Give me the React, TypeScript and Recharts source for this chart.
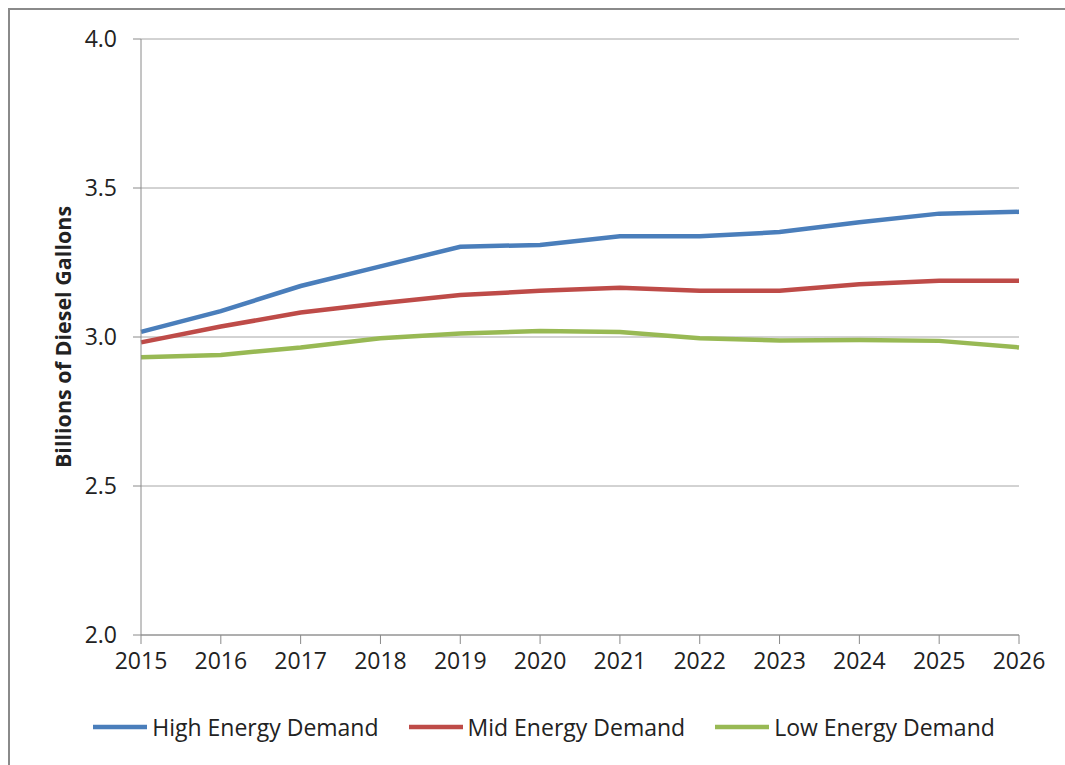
import React from "react";
import { LineChart, Line, XAxis, YAxis, CartesianGrid, Legend } from "recharts";

const years = ["2015", "2016", "2017", "2018", "2019", "2020", "2021", "2022", "2023", "2024", "2025", "2026"];
const highDemand = [3.017, 3.087, 3.171, 3.237, 3.303, 3.309, 3.338, 3.338, 3.352, 3.385, 3.414, 3.420];
const midDemand = [2.982, 3.035, 3.082, 3.113, 3.141, 3.155, 3.165, 3.155, 3.155, 3.177, 3.189, 3.189];
const lowDemand = [2.932, 2.940, 2.965, 2.996, 3.012, 3.020, 3.017, 2.996, 2.988, 2.990, 2.987, 2.965];
const yTicks = [2.0, 2.5, 3.0, 3.5, 4.0];
const yLabel = "Billions of Diesel Gallons";

const seriesNames = ["High Energy Demand", "Mid Energy Demand", "Low Energy Demand"];
const seriesColors = ["#4A7EBB", "#BE4B48", "#98B954"];

const data = years.map((y, i) => ({
  year: y,
  high: highDemand[i],
  mid: midDemand[i],
  low: lowDemand[i],
}));

const FONT = "'Open Sans', 'DejaVu Sans', sans-serif";
const TEXT = "#222222";

const renderLegend = (props: any) => {
  const payload = [...(props.payload || [])].sort(
    (a: any, b: any) => seriesNames.indexOf(a.value) - seriesNames.indexOf(b.value)
  );
  return (
    <div
      style={{
        display: "flex",
        justifyContent: "center",
        alignItems: "center",
        height: 30,
        paddingLeft: 59,
        fontFamily: FONT,
        fontSize: 23,
        color: TEXT,
      }}
    >
      {payload.map((entry: any, i: number) => (
        <div key={i} style={{ display: "flex", alignItems: "center", marginLeft: i === 0 ? 0 : 30 }}>
          <svg width={54} height={6} style={{ marginRight: 5 }}>
            <line x1={0} y1={3} x2={54} y2={3} stroke={entry.color} strokeWidth={4.5} strokeLinecap="round" />
          </svg>
          <span style={{ lineHeight: "30px" }}>{entry.value}</span>
        </div>
      ))}
    </div>
  );
};

const renderYLabel = (props: any) => {
  const vb = props.viewBox || {};
  const cx = (vb.x || 0) + 52;
  const cy = (vb.y || 0) + (vb.height || 0) / 2;
  return (
    <text
      x={cx}
      y={cy}
      transform={`rotate(-90, ${cx}, ${cy})`}
      textAnchor="middle"
      dominantBaseline="central"
      fontFamily={FONT}
      fontWeight="bold"
      fontSize={21.5}
      fill={TEXT}
    >
      {yLabel}
    </text>
  );
};

export default function App() {
  return (
    <div
      style={{
        position: "fixed",
        left: 0,
        top: 0,
        width: 1065,
        height: 765,
        overflow: "hidden",
        background: "#fff",
        zIndex: 9999,
      }}
    >
      <div
        style={{
          position: "absolute",
          left: 8,
          top: 8,
          width: 1100,
          height: 800,
          borderLeft: "2px solid #8a8a8a",
          borderTop: "2px solid #8a8a8a",
          boxSizing: "border-box",
        }}
      >
        <LineChart
          width={1068}
          height={739}
          data={data}
          margin={{ top: 29, right: 59, bottom: 7, left: 0 }}
        >
          <CartesianGrid vertical={false} stroke="#a6a6a6" strokeWidth={1} />
          <XAxis
            dataKey="year"
            height={77}
            stroke="#8a8a8a"
            tickSize={9}
            tickMargin={9}
            tick={{ fill: TEXT, fontSize: 23, fontFamily: FONT }}
            interval={0}
          />
          <YAxis
            width={131}
            domain={[2, 4]}
            ticks={yTicks}
            tickFormatter={(v: number) => v.toFixed(1)}
            stroke="#8a8a8a"
            tickSize={8}
            tickMargin={16}
            tick={{ fill: TEXT, fontSize: 23, fontFamily: FONT }}
            label={renderYLabel}
          />
          <Legend verticalAlign="bottom" align="center" content={renderLegend} />
          <Line type="linear" dataKey="high" name={seriesNames[0]} stroke={seriesColors[0]} strokeWidth={4.5} dot={false} isAnimationActive={false} />
          <Line type="linear" dataKey="mid" name={seriesNames[1]} stroke={seriesColors[1]} strokeWidth={4.5} dot={false} isAnimationActive={false} />
          <Line type="linear" dataKey="low" name={seriesNames[2]} stroke={seriesColors[2]} strokeWidth={4.5} dot={false} isAnimationActive={false} />
        </LineChart>
      </div>
    </div>
  );
}
